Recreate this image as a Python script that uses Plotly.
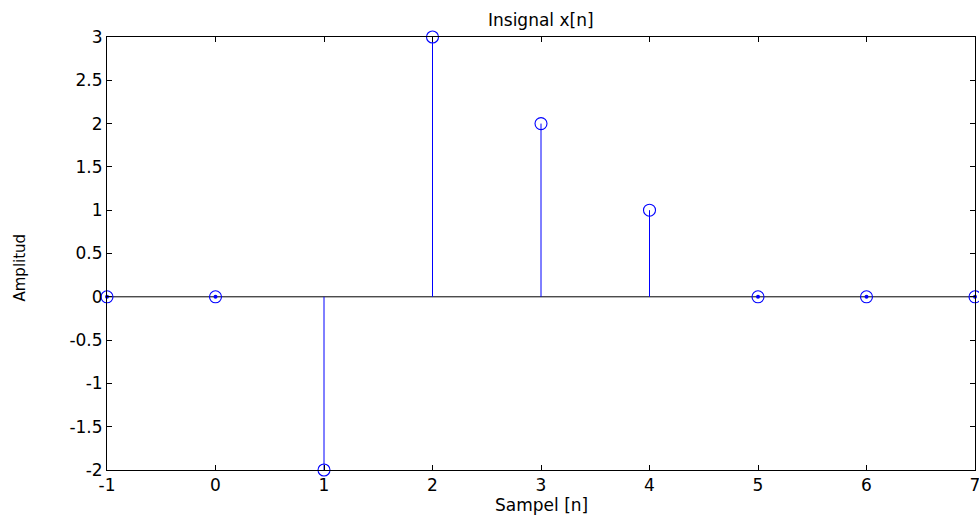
import plotly.graph_objects as go

n = [-1, 0, 1, 2, 3, 4, 5, 6, 7]
x_vals = [0, 0, -2, 3, 2, 1, 0, 0, 0]
x_ticks = [-1, 0, 1, 2, 3, 4, 5, 6, 7]
y_ticks = [-2, -1.5, -1, -0.5, 0, 0.5, 1, 1.5, 2, 2.5, 3]
y_tick_text = ["-2", "-1.5", "-1", "-0.5", "0", "0.5", "1", "1.5", "2", "2.5", "3"]

FONT = "DejaVu Sans, Liberation Sans, Arial, sans-serif"
BLUE = "#0000ff"

stem_x, stem_y = [], []
for xi, yi in zip(n, x_vals):
    stem_x += [xi, xi, None]
    stem_y += [0, yi, None]

fig = go.Figure()
fig.add_trace(go.Scatter(x=[n[0], n[-1]], y=[0, 0], mode="lines",
                         line=dict(color="black", width=1), hoverinfo="skip", showlegend=False))
fig.add_trace(go.Scatter(x=stem_x, y=stem_y, mode="lines",
                         line=dict(color=BLUE, width=1), hoverinfo="skip", showlegend=False))
zx = [xi for xi, yi in zip(n, x_vals) if yi == 0]
zy = [yi for yi in x_vals if yi == 0]
fig.add_trace(go.Scatter(x=zx, y=zy, mode="markers",
                         marker=dict(symbol="circle", size=4, color=BLUE),
                         hoverinfo="skip", showlegend=False, cliponaxis=False))
fig.add_trace(go.Scatter(x=n, y=x_vals, mode="markers",
                         marker=dict(symbol="circle-open", size=12, color=BLUE,
                                     line=dict(width=1.1, color=BLUE)),
                         showlegend=False, cliponaxis=False))

fig.update_layout(
    width=979, height=518,
    margin=dict(l=107, r=4, t=37, b=48),
    paper_bgcolor="white", plot_bgcolor="white",
    font=dict(family=FONT, size=17, color="black"),
    annotations=[
        dict(text="Insignal x[n]", xref="paper", yref="paper", x=0.5, y=1,
             xanchor="center", yanchor="middle", yshift=17, showarrow=False,
             font=dict(family=FONT, size=17, color="black")),
        dict(text="Sampel [n]", xref="paper", yref="paper", x=0.5, y=0,
             xanchor="center", yanchor="middle", yshift=-35, showarrow=False,
             font=dict(family=FONT, size=17, color="black")),
        dict(text="Amplitud", xref="paper", yref="paper", x=0, y=0.5,
             xanchor="center", yanchor="middle", xshift=-88, yshift=-14, textangle=-90,
             showarrow=False, font=dict(family=FONT, size=15, color="black")),
    ],
)
fig.update_xaxes(range=[-1, 7], tickvals=x_ticks, ticktext=[str(t) for t in x_ticks],
                 showgrid=False, zeroline=False, showline=True, linecolor="black", linewidth=1,
                 mirror="ticks", ticks="inside", ticklen=5, tickcolor="black",
                 ticklabeloverflow="allow", automargin=False)
fig.update_yaxes(range=[-2, 3], tickvals=y_ticks, ticktext=y_tick_text,
                 showgrid=False, zeroline=False, showline=True, linecolor="black", linewidth=1,
                 mirror="ticks", ticks="inside", ticklen=5, tickcolor="black",
                 ticklabeloverflow="allow", automargin=False)

fig.write_html("out.html")
